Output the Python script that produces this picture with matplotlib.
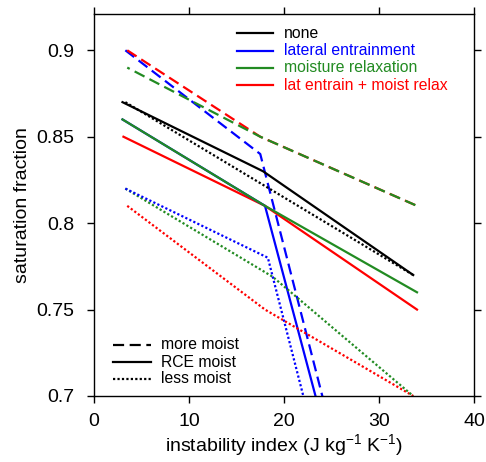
import matplotlib
matplotlib.use('Agg')
import matplotlib.pyplot as plt

plt.rcParams['font.family'] = ['Liberation Sans', 'DejaVu Sans']
plt.rcParams['mathtext.fontset'] = 'custom'
plt.rcParams['mathtext.rm'] = 'Liberation Sans'
plt.rcParams['mathtext.default'] = 'regular'

# data: (instability index, saturation fraction)
none_rce_x = [3.0, 17.8, 33.6]
none_rce_y = [0.87, 0.83, 0.77]
none_less_x = [3.3, 33.6]
none_less_y = [0.87, 0.77]

lat_more_x = [3.3, 17.5, 24.5]
lat_more_y = [0.90, 0.84, 0.69]
lat_rce_x = [3.0, 18.0, 23.8]
lat_rce_y = [0.86, 0.81, 0.69]
lat_less_x = [3.3, 18.3, 22.5]
lat_less_y = [0.82, 0.78, 0.69]

moist_more_x = [3.5, 17.5, 34]
moist_more_y = [0.89, 0.85, 0.81]
moist_rce_x = [3.0, 18.0, 34]
moist_rce_y = [0.86, 0.81, 0.76]
moist_less_x = [3.3, 18.8, 33.6]
moist_less_y = [0.82, 0.769, 0.70]

both_more_x = [3.5, 17.5, 34]
both_more_y = [0.90, 0.85, 0.81]
both_rce_x = [3.1, 18.0, 34]
both_rce_y = [0.85, 0.81, 0.75]
both_less_x = [3.5, 18.0, 33.6]
both_less_y = [0.81, 0.75, 0.70]

blue = '#0000ff'
green = '#228b22'
red = '#ff0000'
dash = (0, (5, 2.5))
dot = (0, (1, 1))

fig = plt.figure(figsize=(4.86, 4.62), dpi=100)
ax = fig.add_axes([94 / 486, 66 / 462, 380 / 486, 382 / 462])

lw = 1.6
# more moist (dashed)
ax.plot(lat_more_x, lat_more_y, color=blue, ls=dash, lw=lw)
ax.plot(both_more_x, both_more_y, color=red, ls=dash, lw=lw)
ax.plot(moist_more_x, moist_more_y, color=green, ls=(3.75, (5, 2.5)), lw=lw)
# RCE moist (solid)
ax.plot(both_rce_x, both_rce_y, color=red, ls='-', lw=lw)
ax.plot(lat_rce_x, lat_rce_y, color=blue, ls='-', lw=lw)
ax.plot(moist_rce_x, moist_rce_y, color=green, ls='-', lw=lw)
ax.plot(none_rce_x, none_rce_y, color='black', ls='-', lw=lw)
# less moist (dotted)
ax.plot(both_less_x, both_less_y, color=red, ls=dot, lw=lw)
ax.plot(moist_less_x, moist_less_y, color=green, ls=dot, lw=lw)
ax.plot(lat_less_x, lat_less_y, color=blue, ls=dot, lw=lw)
ax.plot(none_less_x, none_less_y, color='black', ls=dot, lw=lw)

ax.set_xlim(0, 40)
ax.set_ylim(0.7, 0.921)
ax.set_xticks([0, 10, 20, 30, 40])
ax.set_yticks([0.7, 0.75, 0.8, 0.85, 0.9])
ax.set_yticklabels(['0.7', '0.75', '0.8', '0.85', '0.9'])
ax.tick_params(direction='out', length=5, width=1, labelsize=14,
               top=True, right=True)
ax.tick_params(axis='y', pad=9)
ax.tick_params(axis='x', pad=7)
for s in ax.spines.values():
    s.set_linewidth(1)
ax.set_xlabel('instability index (J kg$^{-1}$ K$^{-1}$)', fontsize=14, labelpad=2)
ax.set_ylabel('saturation fraction', fontsize=14, labelpad=4)

# colour legend
names = ['none', 'lateral entrainment', 'moisture relaxation', 'lat entrain + moist relax']
cols = ['black', blue, green, red]
ys = [0.950, 0.904, 0.859, 0.814]
for n, c, y in zip(names, cols, ys):
    ax.plot([0.376, 0.471], [y, y], color=c, lw=lw, transform=ax.transAxes)
    ax.text(0.5, y, n, color=c, fontsize=11.3, va='center', transform=ax.transAxes)

# line style legend
snames = ['more moist', 'RCE moist', 'less moist']
styles = [dash, '-', dot]
ys2 = [0.134, 0.089, 0.045]
for n, st, y in zip(snames, styles, ys2):
    ax.plot([0.05, 0.15], [y, y], color='black', ls=st, lw=lw, transform=ax.transAxes)
    ax.text(0.176, y, n, color='black', fontsize=11.3, va='center', transform=ax.transAxes)

fig.savefig('out.png', dpi=100)
